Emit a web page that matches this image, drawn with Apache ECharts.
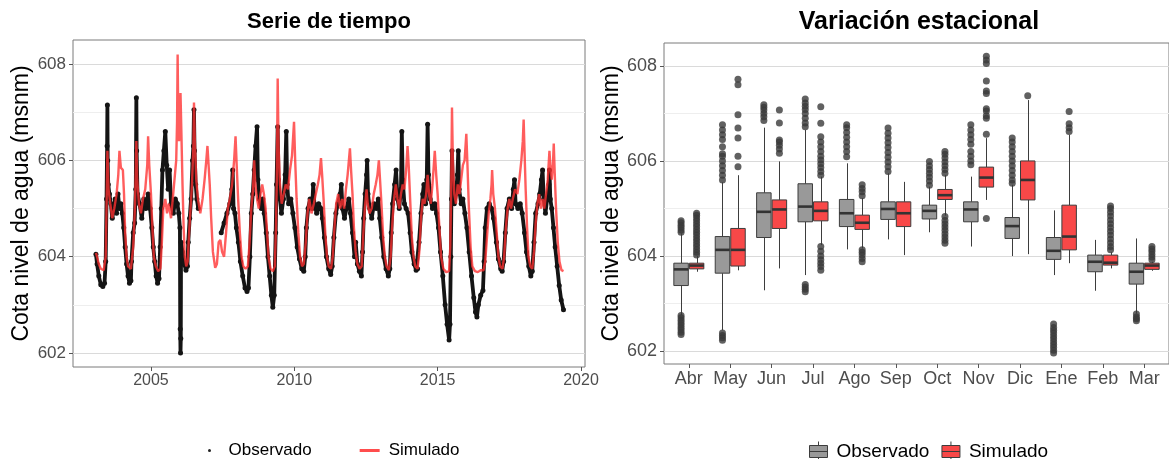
<!DOCTYPE html>
<html>
<head>
<meta charset="utf-8">
<script src="https://cdn.jsdelivr.net/npm/echarts@6/dist/echarts.min.js"></script>
<style>
  html, body { margin: 0; padding: 0; background: #fff; }
  #chart { width: 1169px; height: 459px; }
</style>
</head>
<body>
<div id="chart"></div>
<script>
// serie de tiempo: [año decimal, cota msnm]
const observado = [
  [2003.08, 604.05], [2003.12, 603.85], [2003.18, 603.6], [2003.25, 603.42], [2003.32, 603.38], [2003.38, 603.45],
  [2003.42, 603.9], [2003.45, 605.2], [2003.47, 606.3], [2003.48, 607.15], [2003.49, 606.0], [2003.51, 605.5],
  [2003.55, 605.3], [2003.6, 605.1], [2003.65, 604.8], [2003.7, 605.0], [2003.75, 605.2], [2003.8, 604.9],
  [2003.85, 605.3], [2003.9, 605.0], [2003.95, 605.1], [2004.0, 604.9],
  [2004.05, 604.6], [2004.1, 604.2], [2004.15, 603.85], [2004.2, 603.6], [2004.25, 603.45], [2004.3, 603.5],
  [2004.32, 603.9], [2004.38, 604.5], [2004.43, 604.7], [2004.47, 605.4], [2004.49, 607.3], [2004.5, 606.2],
  [2004.53, 605.3], [2004.6, 605.1], [2004.68, 604.8], [2004.75, 605.2], [2004.82, 605.0], [2004.9, 605.3], [2004.97, 605.0],
  [2005.03, 604.6], [2005.08, 604.2], [2005.13, 603.9], [2005.18, 603.6], [2005.23, 603.45], [2005.28, 603.55],
  [2005.32, 604.2], [2005.36, 605.0], [2005.4, 605.8], [2005.45, 606.2], [2005.5, 606.6], [2005.55, 605.9],
  [2005.6, 605.4], [2005.65, 605.8], [2005.7, 605.1], [2005.78, 604.9], [2005.85, 605.2], [2005.92, 605.1], [2005.97, 604.9],
  [2006.01, 604.6], [2006.02, 602.5], [2006.03, 602.0], [2006.04, 602.3], [2006.05, 604.3], [2006.1, 604.1],
  [2006.16, 603.85], [2006.22, 603.72], [2006.27, 603.8], [2006.3, 604.3], [2006.35, 604.8], [2006.4, 605.2],
  [2006.45, 606.0], [2006.48, 606.3], [2006.5, 607.05], [2006.52, 606.2], [2006.56, 605.5], [2006.6, 605.2], [2006.65, 605.0],
  [2007.0, '-'],
  [2007.45, 604.5], [2007.55, 604.7], [2007.65, 604.9], [2007.75, 605.1], [2007.82, 605.4], [2007.85, 605.8],
  [2007.88, 605.0], [2007.93, 604.9], [2007.98, 604.6],
  [2008.05, 604.3], [2008.12, 603.9], [2008.2, 603.6], [2008.28, 603.35], [2008.35, 603.28], [2008.4, 603.35],
  [2008.45, 604.0], [2008.5, 604.9], [2008.55, 605.3], [2008.6, 605.8], [2008.65, 606.3], [2008.7, 606.7],
  [2008.73, 605.6], [2008.78, 605.2], [2008.85, 605.0], [2008.9, 605.2], [2008.95, 604.9],
  [2009.02, 604.5], [2009.08, 604.0], [2009.14, 603.6], [2009.2, 603.2], [2009.25, 602.95], [2009.3, 603.2],
  [2009.35, 604.5], [2009.38, 605.5], [2009.42, 606.7], [2009.45, 605.6], [2009.5, 605.2], [2009.55, 604.9],
  [2009.62, 605.2], [2009.68, 605.7], [2009.72, 606.6], [2009.75, 605.5], [2009.8, 605.1], [2009.88, 605.2], [2009.95, 604.9],
  [2010.02, 604.6], [2010.1, 604.2], [2010.18, 603.95], [2010.26, 603.75], [2010.33, 603.7], [2010.38, 604.0],
  [2010.42, 604.6], [2010.48, 605.0], [2010.55, 605.2], [2010.62, 605.0], [2010.66, 605.5], [2010.7, 605.1],
  [2010.78, 604.9], [2010.85, 605.1], [2010.93, 605.0], [2010.98, 604.8],
  [2011.05, 604.4], [2011.12, 604.0], [2011.2, 603.75], [2011.27, 603.63], [2011.32, 603.8], [2011.38, 604.4],
  [2011.45, 604.9], [2011.52, 605.1], [2011.6, 605.3], [2011.64, 605.5], [2011.68, 605.0], [2011.75, 604.8],
  [2011.82, 605.0], [2011.9, 605.2], [2011.96, 604.9],
  [2012.03, 604.5], [2012.1, 604.0], [2012.14, 604.3], [2012.2, 603.85], [2012.27, 603.7], [2012.34, 603.6],
  [2012.38, 604.1], [2012.42, 604.8], [2012.47, 605.3], [2012.52, 605.7], [2012.54, 606.0], [2012.57, 605.3],
  [2012.63, 605.0], [2012.7, 604.8], [2012.78, 605.1], [2012.86, 605.0], [2012.93, 605.2], [2012.98, 604.8],
  [2013.05, 604.4], [2013.12, 604.0], [2013.2, 603.75], [2013.28, 603.6], [2013.33, 603.75], [2013.38, 604.5],
  [2013.43, 605.1], [2013.5, 605.5], [2013.55, 605.8], [2013.6, 605.2], [2013.66, 605.0], [2013.72, 605.4],
  [2013.75, 606.6], [2013.78, 605.6], [2013.84, 605.1], [2013.9, 605.0], [2013.97, 604.9],
  [2014.04, 604.5], [2014.1, 604.1], [2014.18, 603.85], [2014.25, 603.72], [2014.3, 603.75], [2014.35, 604.3],
  [2014.42, 604.9], [2014.48, 605.3], [2014.52, 605.5], [2014.58, 605.1], [2014.62, 605.6], [2014.65, 606.75],
  [2014.68, 605.7], [2014.74, 605.2], [2014.82, 605.0], [2014.9, 605.1], [2014.96, 604.9],
  [2015.03, 604.6], [2015.1, 604.1], [2015.18, 603.6], [2015.26, 603.0], [2015.33, 602.6], [2015.4, 602.27],
  [2015.43, 602.6], [2015.46, 604.0], [2015.48, 605.2], [2015.5, 606.2], [2015.53, 605.4], [2015.58, 605.1],
  [2015.64, 605.3], [2015.69, 605.7], [2015.72, 606.2], [2015.75, 605.4], [2015.82, 605.1], [2015.88, 605.2], [2015.95, 604.9],
  [2016.02, 604.6], [2016.1, 604.1], [2016.18, 603.6], [2016.26, 603.15], [2016.32, 602.85], [2016.37, 602.75],
  [2016.42, 603.0], [2016.5, 603.2], [2016.58, 603.3], [2016.62, 603.9], [2016.66, 604.6], [2016.72, 605.0],
  [2016.8, 605.1], [2016.88, 605.0], [2016.95, 604.8],
  [2017.05, 604.3], [2017.12, 603.95], [2017.2, 603.75], [2017.25, 603.7], [2017.3, 603.9], [2017.36, 604.5],
  [2017.42, 605.0], [2017.5, 605.2], [2017.58, 605.0], [2017.64, 605.4], [2017.68, 605.6], [2017.72, 605.1],
  [2017.8, 605.0], [2017.88, 605.1], [2017.95, 604.9],
  [2018.03, 604.5], [2018.1, 604.1], [2018.18, 603.8], [2018.25, 603.6], [2018.3, 603.7], [2018.36, 604.3],
  [2018.42, 604.9], [2018.5, 605.1], [2018.56, 605.3], [2018.62, 605.6], [2018.66, 605.8], [2018.7, 605.2],
  [2018.76, 604.9], [2018.82, 605.2], [2018.88, 605.5], [2018.9, 605.8], [2018.93, 605.2], [2018.98, 605.0],
  [2019.04, 604.6], [2019.1, 604.2], [2019.17, 603.8], [2019.24, 603.4], [2019.31, 603.1], [2019.39, 602.9]
];

const simulado = [
  [2003.08, 604.08], [2003.12, 604.0], [2003.18, 603.85], [2003.25, 603.75], [2003.35, 603.72], [2003.42, 604.0],
  [2003.45, 605.0], [2003.48, 606.2], [2003.52, 605.4], [2003.58, 605.1], [2003.65, 604.8], [2003.72, 605.0],
  [2003.8, 605.3], [2003.86, 605.7], [2003.9, 606.2], [2003.95, 605.85], [2004.02, 605.8], [2004.06, 605.3],
  [2004.1, 604.5], [2004.15, 604.0], [2004.2, 603.8], [2004.3, 603.75], [2004.38, 604.2], [2004.44, 605.0],
  [2004.47, 605.8], [2004.49, 606.4], [2004.52, 605.6], [2004.58, 605.1], [2004.65, 604.9], [2004.72, 605.2],
  [2004.8, 605.4], [2004.87, 605.9], [2004.9, 606.5], [2004.94, 605.9], [2005.0, 605.3],
  [2005.05, 604.6], [2005.1, 604.0], [2005.17, 603.8], [2005.25, 603.7], [2005.33, 603.75], [2005.38, 604.3],
  [2005.43, 605.0], [2005.5, 605.2], [2005.56, 604.9], [2005.62, 605.1], [2005.7, 604.8], [2005.76, 605.2],
  [2005.82, 605.6], [2005.88, 606.0], [2005.91, 606.8], [2005.93, 608.2], [2005.95, 607.0], [2005.98, 606.4],
  [2006.01, 606.8], [2006.03, 607.4], [2006.06, 606.6], [2006.1, 605.5], [2006.14, 604.6], [2006.18, 604.0],
  [2006.23, 603.8], [2006.28, 603.9], [2006.33, 604.5], [2006.38, 605.0], [2006.43, 605.5], [2006.48, 606.3],
  [2006.5, 607.2], [2006.53, 606.4], [2006.58, 605.6], [2006.64, 605.2], [2006.72, 604.9], [2006.8, 605.2],
  [2006.87, 605.6], [2006.93, 606.0], [2006.97, 606.3], [2007.0, 606.0], [2007.05, 605.5], [2007.1, 604.8],
  [2007.16, 604.1], [2007.24, 603.77], [2007.3, 603.85], [2007.36, 604.3], [2007.42, 604.35], [2007.48, 604.1],
  [2007.55, 604.0], [2007.62, 604.5], [2007.68, 605.0], [2007.75, 605.2], [2007.83, 605.5], [2007.9, 606.0],
  [2007.95, 606.5], [2007.99, 605.9],
  [2008.04, 605.2], [2008.1, 604.5], [2008.16, 604.0], [2008.22, 603.8], [2008.3, 603.75], [2008.38, 603.8],
  [2008.44, 604.3], [2008.5, 605.0], [2008.56, 605.4], [2008.6, 606.0], [2008.64, 605.5], [2008.7, 605.2],
  [2008.76, 605.0], [2008.82, 605.3], [2008.88, 605.5], [2008.94, 605.3], [2009.0, 605.0],
  [2009.05, 604.5], [2009.1, 604.0], [2009.17, 603.75], [2009.25, 603.7], [2009.32, 603.8], [2009.36, 604.6],
  [2009.39, 605.6], [2009.42, 607.7], [2009.45, 606.3], [2009.5, 605.5], [2009.56, 605.1], [2009.63, 605.3],
  [2009.7, 605.5], [2009.78, 605.4], [2009.85, 605.8], [2009.92, 606.1], [2009.99, 606.8], [2010.03, 606.0],
  [2010.08, 605.2], [2010.14, 604.5], [2010.2, 604.0], [2010.27, 603.8], [2010.33, 603.85], [2010.4, 604.3],
  [2010.46, 604.9], [2010.52, 605.2], [2010.6, 604.9], [2010.68, 605.1], [2010.75, 605.3], [2010.82, 605.5],
  [2010.88, 605.7], [2010.93, 606.05], [2010.97, 605.7], [2011.02, 605.2],
  [2011.08, 604.5], [2011.14, 604.0], [2011.2, 603.8], [2011.28, 603.75], [2011.34, 604.0], [2011.4, 604.6],
  [2011.46, 605.1], [2011.53, 605.3], [2011.6, 605.0], [2011.67, 605.2], [2011.74, 605.0], [2011.8, 605.4],
  [2011.86, 605.7], [2011.94, 606.25], [2011.98, 605.8], [2012.03, 605.3],
  [2012.08, 604.6], [2012.14, 604.1], [2012.2, 603.85], [2012.28, 603.75], [2012.35, 603.8], [2012.4, 604.4],
  [2012.46, 605.0], [2012.52, 605.4], [2012.56, 605.1], [2012.62, 604.9], [2012.7, 605.0], [2012.77, 605.3],
  [2012.84, 605.5], [2012.9, 605.7], [2012.95, 606.0], [2012.99, 605.6], [2013.04, 605.1],
  [2013.1, 604.4], [2013.16, 604.0], [2013.22, 603.8], [2013.3, 603.72], [2013.36, 604.0], [2013.42, 604.7],
  [2013.48, 605.2], [2013.54, 605.5], [2013.6, 605.2], [2013.66, 605.0], [2013.72, 605.3], [2013.78, 605.5],
  [2013.84, 605.4], [2013.9, 605.8], [2013.95, 606.3], [2013.99, 605.9], [2014.04, 605.2],
  [2014.1, 604.4], [2014.16, 604.0], [2014.22, 603.8], [2014.3, 603.75], [2014.36, 604.1], [2014.42, 604.8],
  [2014.48, 605.2], [2014.54, 605.1], [2014.6, 605.3], [2014.65, 605.7], [2014.7, 605.3], [2014.76, 605.1],
  [2014.82, 605.5], [2014.9, 606.2], [2014.95, 605.7], [2015.0, 605.3],
  [2015.06, 604.6], [2015.12, 604.0], [2015.2, 603.75], [2015.3, 603.68], [2015.4, 603.7], [2015.44, 604.2],
  [2015.47, 605.3], [2015.5, 607.1], [2015.53, 606.0], [2015.58, 605.3], [2015.64, 605.1], [2015.7, 605.5],
  [2015.76, 605.3], [2015.82, 605.6], [2015.88, 605.9], [2015.94, 606.0], [2016.0, 606.55], [2016.04, 605.9],
  [2016.09, 605.0], [2016.15, 604.2], [2016.21, 603.8], [2016.3, 603.7], [2016.4, 603.68], [2016.5, 603.72],
  [2016.6, 603.72], [2016.66, 603.9], [2016.72, 604.4], [2016.78, 604.9], [2016.84, 605.2], [2016.88, 605.5],
  [2016.9, 605.8], [2016.94, 605.3], [2017.0, 605.0],
  [2017.06, 604.5], [2017.12, 604.0], [2017.18, 603.8], [2017.26, 603.75], [2017.32, 604.0], [2017.38, 604.6],
  [2017.44, 605.0], [2017.5, 605.2], [2017.56, 605.0], [2017.62, 605.2], [2017.7, 605.4], [2017.78, 605.3],
  [2017.85, 605.6], [2017.92, 606.0], [2017.97, 606.4], [2018.0, 606.85], [2018.03, 606.2], [2018.07, 605.4],
  [2018.12, 604.6], [2018.17, 604.0], [2018.23, 603.8], [2018.3, 603.75], [2018.36, 604.1], [2018.42, 604.7],
  [2018.48, 605.1], [2018.54, 605.3], [2018.6, 605.0], [2018.66, 605.2], [2018.72, 605.0], [2018.78, 605.3],
  [2018.84, 605.6], [2018.9, 606.2], [2018.94, 605.8], [2018.98, 605.6], [2019.02, 605.9], [2019.05, 606.35],
  [2019.08, 605.8], [2019.13, 605.0], [2019.19, 604.3], [2019.25, 603.9], [2019.32, 603.72], [2019.39, 603.7]
];

// variación estacional
const meses = ['Abr', 'May', 'Jun', 'Jul', 'Ago', 'Sep', 'Oct', 'Nov', 'Dic', 'Ene', 'Feb', 'Mar'];
const mesIdx = [1, 2, 3, 4, 5, 6, 7, 8, 9, 10, 11, 12];
// [bigote inf, Q1, mediana, Q3, bigote sup]
const cajaObs = [
  [602.76, 603.38, 603.72, 603.85, 604.48],
  [602.44, 603.64, 604.13, 604.41, 605.55],
  [603.28, 604.39, 604.93, 605.33, 606.7],
  [603.6, 604.72, 605.04, 605.52, 606.65],
  [604.14, 604.62, 604.9, 605.19, 605.95],
  [604.35, 604.77, 604.99, 605.14, 605.74],
  [604.5, 604.78, 604.95, 605.07, 605.46],
  [604.2, 604.72, 604.98, 605.14, 605.67],
  [604.0, 604.37, 604.63, 604.81, 605.5],
  [603.6, 603.93, 604.11, 604.39, 604.96],
  [603.27, 603.67, 603.88, 604.02, 604.34],
  [602.79, 603.41, 603.67, 603.85, 604.37]
];
const cajaSim = [
  [603.67, 603.73, 603.8, 603.85, 604.0],
  [603.7, 603.79, 604.13, 604.58, 605.7],
  [603.74, 604.58, 604.98, 605.18, 605.99],
  [604.23, 604.74, 604.95, 605.14, 605.67],
  [604.16, 604.56, 604.7, 604.86, 605.22],
  [604.02, 604.62, 604.9, 605.14, 605.56],
  [604.85, 605.19, 605.28, 605.4, 605.7],
  [605.18, 605.45, 605.65, 605.87, 606.48],
  [604.04, 605.18, 605.6, 606.0, 607.28],
  [603.85, 604.13, 604.41, 605.07, 606.55],
  [603.74, 603.81, 603.86, 604.02, 604.08],
  [603.69, 603.72, 603.8, 603.85, 603.88]
];
const atipObs = [
  [602.35, 602.4, 602.45, 602.5, 602.55, 602.6, 602.65, 602.7, 602.75, 604.5, 604.55, 604.6, 604.65, 604.7, 604.74],
  [602.23, 602.28, 602.33, 602.38, 605.6, 605.7, 605.8, 605.9, 606.0, 606.1, 606.15, 606.3, 606.45, 606.55, 606.65, 606.76],
  [606.85, 606.93, 607.0, 607.07, 607.13, 607.18],
  [603.25, 603.3, 603.35, 603.4, 606.72, 606.8, 606.9, 607.0, 607.08, 607.15, 607.22, 607.3],
  [606.09, 606.2, 606.3, 606.4, 606.5, 606.6, 606.7, 606.76],
  [605.78, 605.88, 605.98, 606.08, 606.18, 606.28, 606.38, 606.48, 606.58, 606.69],
  [605.49, 605.58, 605.66, 605.74, 605.82, 605.9, 605.99],
  [605.92, 606.0, 606.1, 606.2, 606.35, 606.45, 606.55, 606.65, 606.76],
  [605.53, 605.6, 605.7, 605.8, 605.9, 606.0, 606.1, 606.2, 606.3, 606.4, 606.48],
  [601.96, 602.02, 602.08, 602.14, 602.2, 602.26, 602.32, 602.38, 602.44, 602.5, 602.57],
  [],
  [602.64, 602.68, 602.72, 602.78]
];
const atipSim = [
  [604.02, 604.08, 604.14, 604.2, 604.26, 604.32, 604.38, 604.44, 604.5, 604.56, 604.62, 604.68, 604.74, 604.8, 604.86, 604.9],
  [605.88, 606.1, 606.48, 606.69, 606.97, 607.6, 607.72],
  [606.16, 606.25, 606.33, 606.4, 606.44, 606.8, 607.07],
  [603.7, 603.78, 603.85, 603.92, 604.0, 604.1, 604.2, 605.7, 605.78, 605.86, 605.94, 606.02, 606.1, 606.2, 606.3, 606.4, 606.51, 606.79, 607.14],
  [603.88, 603.95, 604.02, 604.08, 604.13, 605.27, 605.35, 605.42, 605.5],
  [],
  [604.27, 604.33, 604.4, 604.47, 604.54, 604.61, 604.68, 604.75, 604.83, 605.74, 605.82, 605.9, 605.98, 606.06, 606.14, 606.2],
  [604.79, 606.56, 606.9, 606.95, 607.05, 607.1, 607.42, 607.47, 607.68, 608.05, 608.12, 608.2],
  [607.37],
  [606.62, 606.7, 606.78, 607.04],
  [604.13, 604.2, 604.28, 604.36, 604.44, 604.52, 604.6, 604.68, 604.76, 604.84, 604.92, 605.0, 605.05],
  [603.92, 603.98, 604.04, 604.1, 604.15, 604.2]
];

const ticksCota = [602, 604, 606, 608];
const ticksAnio = [2005, 2010, 2015, 2020];

const FONT = '"Liberation Sans", Arial, sans-serif';
const GRIS_OBS = '#999999';
const ROJO_SIM = '#f84848';
const DODGE = 0.1875;
const MEDIA_CAJA = 0.175;

const chart = echarts.init(document.getElementById('chart'));

function cajaRender(desplaza, relleno) {
  return function (params, api) {
    const x = api.value(0) + desplaza;
    const sup = api.coord([x - MEDIA_CAJA, api.value(4)]);
    const inf = api.coord([x + MEDIA_CAJA, api.value(2)]);
    const bMax = api.coord([x, api.value(5)]);
    const bMin = api.coord([x, api.value(1)]);
    const mI = api.coord([x - MEDIA_CAJA, api.value(3)]);
    const mD = api.coord([x + MEDIA_CAJA, api.value(3)]);
    const cx = Math.round(bMax[0]) + 0.5;
    const linea = { stroke: '#3d3d3d', lineWidth: 1 };
    return {
      type: 'group',
      children: [
        { type: 'line', shape: { x1: cx, y1: bMax[1], x2: cx, y2: sup[1] }, style: linea },
        { type: 'line', shape: { x1: cx, y1: inf[1], x2: cx, y2: bMin[1] }, style: linea },
        {
          type: 'rect',
          shape: { x: sup[0], y: sup[1], width: inf[0] - sup[0], height: inf[1] - sup[1] },
          style: { fill: relleno, stroke: '#3d3d3d', lineWidth: 1 }
        },
        { type: 'line', shape: { x1: mI[0], y1: mI[1], x2: mD[0], y2: mD[1] }, style: { stroke: '#333', lineWidth: 2.6 } }
      ]
    };
  };
}

function puntosAtipicos(lista, desplaza) {
  const pts = [];
  lista.forEach((vals, i) => vals.forEach(v => pts.push([mesIdx[i] + desplaza, v])));
  return pts;
}

const iconoCaja = 'path://M9,0V4M0,4H18V16H0ZM0,10H18M9,16V20';

const ejeY = (idx, min, max, size) => ({
  type: 'value',
  gridIndex: idx,
  min: min,
  max: max,
  splitNumber: 3,
  name: 'Cota nivel de agua (msnm)',
  nameLocation: 'middle',
  nameGap: 40,
  nameTextStyle: { fontFamily: FONT, fontSize: 23, color: '#000' },
  axisLine: { show: false },
  axisTick: { show: true, length: 4, customValues: ticksCota, lineStyle: { color: '#555' } },
  axisLabel: {
    customValues: ticksCota,
    fontFamily: FONT, fontSize: size, color: '#4d4d4d', margin: 7
  },
  splitLine: { show: true, lineStyle: { color: '#dadada', width: 1 } },
  minorTick: { show: false, splitNumber: 2 },
  minorSplitLine: { show: true, lineStyle: { color: '#eeeeee', width: 1 } }
});

const option = {
  animation: false,
  backgroundColor: '#fff',
  graphic: [
    {
      type: 'text', x: 329, y: 22,
      style: { text: 'Serie de tiempo', font: 'bold 22px ' + FONT, fill: '#000', textAlign: 'center', textVerticalAlign: 'middle' }
    },
    {
      type: 'text', x: 919, y: 22,
      style: { text: 'Variación estacional', font: 'bold 25px ' + FONT, fill: '#000', textAlign: 'center', textVerticalAlign: 'middle' }
    }
  ],
  grid: [
    { left: 73, width: 512, top: 40, height: 327, show: true, borderColor: '#7a7a7a', borderWidth: 1, backgroundColor: 'transparent' },
    { left: 664, width: 511, top: 43, height: 321, show: true, borderColor: '#7a7a7a', borderWidth: 1, backgroundColor: 'transparent' }
  ],
  xAxis: [
    {
      type: 'value',
      gridIndex: 0,
      min: 2002.28,
      max: 2020.14,
      axisLine: { show: false },
      axisTick: { show: true, length: 4, customValues: ticksAnio, lineStyle: { color: '#555' } },
      axisLabel: {
        customValues: ticksAnio,
        formatter: v => String(Math.round(v)),
        fontFamily: FONT, fontSize: 16, color: '#4d4d4d', margin: 6
      },
      splitLine: { show: false }
    },
    {
      type: 'value',
      gridIndex: 1,
      min: 0.4,
      max: 12.6,
      axisLine: { show: false },
      axisTick: { show: true, length: 4, customValues: mesIdx, lineStyle: { color: '#555' } },
      axisLabel: {
        customValues: mesIdx,
        formatter: v => meses[Math.round(v) - 1],
        fontFamily: FONT, fontSize: 18, color: '#4d4d4d', margin: 6
      },
      splitLine: { show: false }
    }
  ],
  yAxis: [
    ejeY(0, 601.71, 608.5, 17),
    ejeY(1, 601.73, 608.48, 18)
  ],
  legend: [
    {
      left: 203, top: 437,
      itemWidth: 28, itemHeight: 3, itemGap: 48,
      selectedMode: false,
      textStyle: { fontFamily: FONT, fontSize: 17, color: '#000' },
      data: [
        { name: 'Observado', icon: 'circle', itemStyle: { color: '#222', borderWidth: 0 } },
        { name: 'Simulado', icon: 'path://M0,0H20V3H0Z', itemStyle: { color: '#ff4d4d', borderWidth: 0 } }
      ]
    },
    {
      left: 804, top: 436,
      itemWidth: 26, itemHeight: 20, itemGap: 12,
      selectedMode: false,
      textStyle: { fontFamily: FONT, fontSize: 19, color: '#000' },
      data: [
        { name: 'Observado', icon: iconoCaja, itemStyle: { color: GRIS_OBS, borderColor: '#3d3d3d', borderWidth: 1 } },
        { name: 'Simulado', icon: iconoCaja, itemStyle: { color: ROJO_SIM, borderColor: '#3d3d3d', borderWidth: 1 } }
      ]
    }
  ],
  series: [
    {
      name: 'Observado',
      type: 'line',
      xAxisIndex: 0, yAxisIndex: 0,
      data: observado,
      showSymbol: true,
      symbol: 'circle',
      symbolSize: 5,
      itemStyle: { color: '#141414' },
      lineStyle: { color: '#141414', width: 3.8 },
      z: 2
    },
    {
      name: 'Simulado',
      type: 'line',
      xAxisIndex: 0, yAxisIndex: 0,
      data: simulado,
      showSymbol: false,
      itemStyle: { color: '#ff3030' },
      lineStyle: { color: '#ff3030', width: 2.4, opacity: 0.78 },
      z: 3
    },
    {
      name: 'Observado',
      type: 'custom',
      xAxisIndex: 1, yAxisIndex: 1,
      data: cajaObs.map((c, i) => [mesIdx[i], ...c]),
      encode: { x: 0, y: [1, 2, 3, 4, 5] },
      renderItem: cajaRender(-DODGE, GRIS_OBS),
      itemStyle: { color: GRIS_OBS },
      z: 2
    },
    {
      name: 'Simulado',
      type: 'custom',
      xAxisIndex: 1, yAxisIndex: 1,
      data: cajaSim.map((c, i) => [mesIdx[i], ...c]),
      encode: { x: 0, y: [1, 2, 3, 4, 5] },
      renderItem: cajaRender(DODGE, ROJO_SIM),
      itemStyle: { color: ROJO_SIM },
      z: 2
    },
    {
      name: 'Observado',
      type: 'scatter',
      xAxisIndex: 1, yAxisIndex: 1,
      data: puntosAtipicos(atipObs, -DODGE),
      symbolSize: 7,
      itemStyle: { color: '#3a3a3a', opacity: 0.8 },
      z: 4
    },
    {
      name: 'Simulado',
      type: 'scatter',
      xAxisIndex: 1, yAxisIndex: 1,
      data: puntosAtipicos(atipSim, DODGE),
      symbolSize: 7,
      itemStyle: { color: '#3a3a3a', opacity: 0.8 },
      z: 4
    }
  ]
};

chart.setOption(option);
</script>
</body>
</html>
